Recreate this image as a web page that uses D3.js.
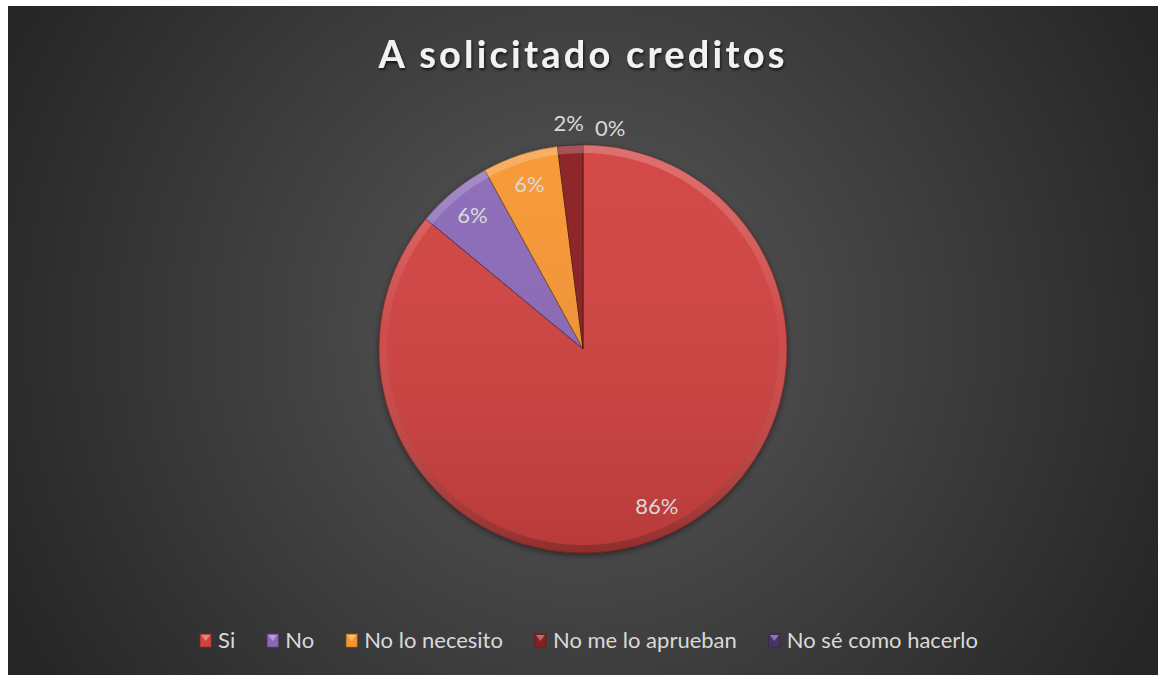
<!DOCTYPE html>
<html>
  <body style="margin:0;background:#fff;">
    <script src="https://d3js.org/d3.v7.min.js"></script>
    <script type="text/javascript">
      const width = 1158;
      const height = 675;

      const categories = ['Si', 'No', 'No lo necesito', 'No me lo aprueban', 'No sé como hacerlo'];
      const percents = [86, 6, 6, 2, 0];
      const colors = ['#d1423f', '#8b69b8', '#f79631', '#8a1f21', '#4a3368'];

      const box = { x: 8, y: 6, w: 1150, h: 669 };
      const cx = 583;
      const cy = 349;
      const radius = 204;
      const font = 'Lato, "Open Sans", sans-serif';

      const svg = d3.select('body')
        .append('svg')
        .attr('width', width)
        .attr('height', height)
        .style('display', 'block');

      const defs = svg.append('defs');

      const bg = defs.append('radialGradient')
        .attr('id', 'bg')
        .attr('gradientUnits', 'userSpaceOnUse')
        .attr('cx', cx).attr('cy', 330).attr('r', 640);
      bg.append('stop').attr('offset', '0%').attr('stop-color', '#595959');
      bg.append('stop').attr('offset', '100%').attr('stop-color', '#262626');

      // gradients used inside the translated pie group (centre = 0,0)
      const bevel = defs.append('linearGradient')
        .attr('id', 'bevel')
        .attr('gradientUnits', 'userSpaceOnUse')
        .attr('x1', 0).attr('y1', -radius).attr('x2', 0).attr('y2', radius);
      bevel.append('stop').attr('offset', '0%').attr('stop-color', '#fff').attr('stop-opacity', 0.22);
      bevel.append('stop').attr('offset', '45%').attr('stop-color', '#fff').attr('stop-opacity', 0.03);
      bevel.append('stop').attr('offset', '100%').attr('stop-color', '#000').attr('stop-opacity', 0.22);

      const shade = defs.append('linearGradient')
        .attr('id', 'shade')
        .attr('gradientUnits', 'userSpaceOnUse')
        .attr('x1', 0).attr('y1', -radius).attr('x2', 0).attr('y2', radius);
      shade.append('stop').attr('offset', '0%').attr('stop-color', '#fff').attr('stop-opacity', 0.04);
      shade.append('stop').attr('offset', '100%').attr('stop-color', '#000').attr('stop-opacity', 0.12);

      const shadow = defs.append('filter').attr('id', 'shadow')
        .attr('x', '-20%').attr('y', '-20%').attr('width', '140%').attr('height', '140%');
      shadow.append('feDropShadow')
        .attr('dx', 0).attr('dy', 2).attr('stdDeviation', 3)
        .attr('flood-color', '#000').attr('flood-opacity', 0.5);

      const titleShadow = defs.append('filter').attr('id', 'tshadow');
      titleShadow.append('feDropShadow')
        .attr('dx', 1).attr('dy', 2).attr('stdDeviation', 1.5)
        .attr('flood-color', '#000').attr('flood-opacity', 0.7);

      svg.append('rect')
        .attr('x', box.x).attr('y', box.y)
        .attr('width', box.w).attr('height', box.h)
        .attr('fill', 'url(#bg)');

      svg.append('text')
        .attr('x', cx)
        .attr('y', 68)
        .attr('text-anchor', 'middle')
        .attr('fill', '#f2f2f2')
        .attr('filter', 'url(#tshadow)')
        .style('font-family', font)
        .style('font-weight', 'bold')
        .style('font-size', '38px')
        .style('letter-spacing', '3.2px')
        .text('A solicitado creditos');

      const data = categories.map((c, i) => ({ name: c, value: percents[i], color: colors[i] }));

      const pie = d3.pie().sort(null).value((d) => d.value);
      const arcs = pie(data);
      const visible = arcs.filter((d) => d.value > 0);

      const arc = d3.arc().innerRadius(0).outerRadius(radius);
      const rim = d3.arc().innerRadius(radius - 8).outerRadius(radius);
      const labelArc = d3.arc().innerRadius(radius * 0.85).outerRadius(radius * 0.85);
      const outerArc = d3.arc().innerRadius(radius + 22).outerRadius(radius + 22);

      const g = svg.append('g').attr('transform', `translate(${cx},${cy})`);

      g.append('g').attr('filter', 'url(#shadow)')
        .selectAll('path')
        .data(arcs)
        .enter()
        .append('path')
        .attr('d', arc)
        .attr('fill', (d) => d.data.color);

      // overall vertical shading
      g.append('g')
        .selectAll('path')
        .data(visible)
        .enter()
        .append('path')
        .attr('d', arc)
        .attr('fill', 'url(#shade)')
        .attr('stroke', (d) => d3.color(d.data.color).darker(1.5))
        .attr('stroke-width', 0.8);

      // bevelled rim
      g.append('g')
        .selectAll('path')
        .data(visible)
        .enter()
        .append('path')
        .attr('d', rim)
        .attr('fill', 'url(#bevel)');

      g.append('g')
        .style('font-family', font)
        .style('font-size', '22px')
        .attr('fill', '#d9d9d9')
        .selectAll('text')
        .data(arcs)
        .enter()
        .append('text')
        .attr('x', (d) => {
          if (d.data.value >= 5) return labelArc.centroid(d)[0];
          const p = outerArc.centroid(d)[0];
          return d.data.value === 0 ? p + 12 : p;
        })
        .attr('y', (d) => (d.data.value >= 5 ? labelArc.centroid(d)[1] : outerArc.centroid(d)[1] + (d.data.value === 0 ? 5 : 0)))
        .attr('dy', '0.35em')
        .attr('text-anchor', (d) => (d.data.value === 0 ? 'start' : 'middle'))
        .text((d) => d.data.value + '%');

      // legend
      const legend = svg.append('g')
        .style('font-family', font)
        .style('font-size', '22px');

      const items = legend.selectAll('g')
        .data(data)
        .enter()
        .append('g');

      items.append('rect')
        .attr('width', 11)
        .attr('height', 13)
        .attr('y', -14)
        .attr('fill', (d) => d.color)
        .attr('stroke', (d) => d3.color(d.color).darker(1))
        .attr('stroke-width', 0.6);

      items.append('path')
        .attr('d', 'M1,-13 L10,-13 L5.5,-7 Z')
        .attr('fill', '#fff')
        .attr('fill-opacity', 0.35);

      items.append('text')
        .attr('x', 18)
        .attr('y', 0)
        .attr('fill', '#d9d9d9')
        .text((d) => d.name);

      const gap = 32;
      const itemWidths = [];
      items.each(function () {
        itemWidths.push(18 + d3.select(this).select('text').node().getComputedTextLength());
      });
      const total = d3.sum(itemWidths) + gap * (itemWidths.length - 1);
      const startX = box.x + box.w / 2 - total / 2 + 6;
      let offset = 0;
      items.attr('transform', (d, i) => {
        const x = startX + offset;
        offset += itemWidths[i] + gap;
        return `translate(${x},648)`;
      });
    </script>
  </body>
</html>
